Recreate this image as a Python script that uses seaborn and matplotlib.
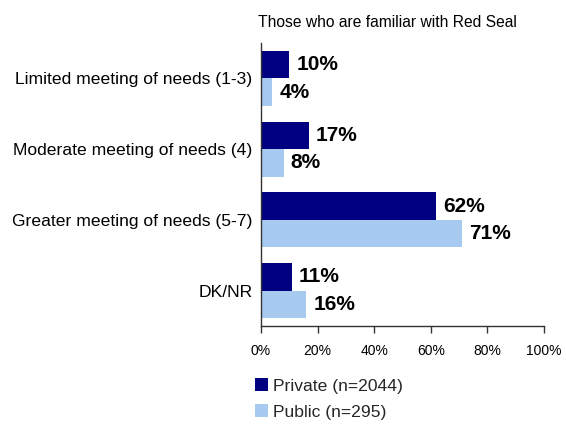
import matplotlib
matplotlib.use("Agg")
import matplotlib.pyplot as plt
from matplotlib import font_manager
from matplotlib.patches import Patch
from matplotlib.ticker import PercentFormatter
import seaborn as sns
import pandas as pd

# Survey data
categories = [
    "Limited meeting of needs (1-3)",
    "Moderate meeting of needs (4)",
    "Greater meeting of needs (5-7)",
    "DK/NR",
]
groups = ["Private (n=2044)", "Public (n=295)"]
private_pct = [10, 17, 62, 11]
public_pct = [4, 8, 71, 16]
title = "Those who are familiar with Red Seal"
xticks = [0, 20, 40, 60, 80, 100]

colors = ["#000080", "#A6CAF0"]

df = pd.DataFrame({
    "category": categories * 2,
    "group": [groups[0]] * len(categories) + [groups[1]] * len(categories),
    "pct": private_pct + public_pct,
})

sns.set_theme(style="white")
available = {f.name for f in font_manager.fontManager.ttflist}
regular = "Liberation Sans" if "Liberation Sans" in available else "DejaVu Sans"
narrow = "Liberation Sans Narrow" if "Liberation Sans Narrow" in available else regular
narrow_scale = 1.0 if narrow != regular else 0.84
plt.rcParams["font.family"] = [regular, "DejaVu Sans"]

fig = plt.figure(figsize=(5.66, 4.24), dpi=100)
ax = fig.add_axes([261 / 566, 1 - 326 / 424, 283 / 566, 283 / 424])

sns.barplot(
    data=df, x="pct", y="category", hue="group", order=categories,
    hue_order=groups, palette=colors, orient="h", width=0.78, gap=0,
    saturation=1, ax=ax, legend=False, edgecolor="none", linewidth=0,
)

for container in ax.containers:
    ax.bar_label(container, fmt="%d%%", padding=5, fontsize=15,
                 fontweight="bold", color="black", family=[regular])

ax.set_xlim(0, 100)
ax.set_ylim(len(categories) - 0.5, -0.5)
ax.set_xticks(xticks)
ax.xaxis.set_major_formatter(PercentFormatter(decimals=0))
ax.set_xlabel("")
ax.set_ylabel("")
ax.tick_params(axis="x", direction="out", length=5, width=1, color="#333333",
               labelsize=10, labelcolor="black", pad=8, bottom=True)
ax.tick_params(axis="y", length=0, pad=6)
for lbl in ax.get_yticklabels():
    lbl.set_fontfamily([narrow])
    lbl.set_fontsize(15 * narrow_scale)
    lbl.set_color("black")

sns.despine(ax=ax, top=True, right=True)
for side in ("left", "bottom"):
    ax.spines[side].set_color("#333333")
    ax.spines[side].set_linewidth(1)

fig.text(258 / 566, 1 - 27 / 424, title, ha="left", va="baseline",
         fontsize=13.4 * narrow_scale, family=[narrow], color="black")

handles = [Patch(facecolor=c, edgecolor="none") for c in colors]
fig.legend(
    handles, groups, loc="center left",
    bbox_to_anchor=(255 / 566, 1 - 399 / 424), frameon=False,
    prop={"family": narrow, "size": 15 * narrow_scale},
    handlelength=0.75, handleheight=0.7, handletextpad=0.3,
    labelspacing=0.62, borderpad=0, borderaxespad=0,
)

fig.savefig("out.png", dpi=100)
